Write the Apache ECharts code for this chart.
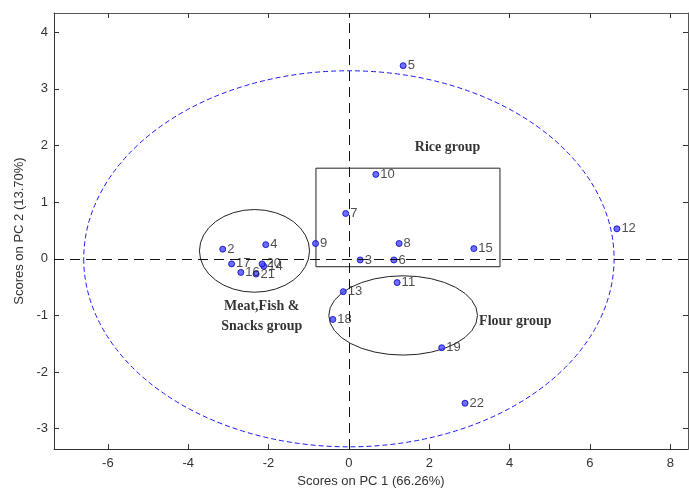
<!DOCTYPE html>
<html>
<head>
<meta charset="utf-8">
<script src="https://cdn.jsdelivr.net/npm/echarts@6/dist/echarts.min.js"></script>
<style>html,body{margin:0;padding:0;background:#fff;}#c{width:689px;height:493px;}</style>
</head>
<body>
<div id="c"></div>
<script>
// Sample labels and PC scores
var sampleNames = ['2','3','4','5','6','7','8','9','10','11','12','13','14','15','16','17','18','19','20','21','22'];
var pc1Scores  = [-3.14, 0.28, -2.07, 1.35, 1.12, -0.08, 1.25, -0.83, 0.67, 1.20, 6.67, -0.14, -2.12, 3.11, -2.69, -2.92, -0.40, 2.31, -2.16, -2.31, 2.89];
var pc2Scores  = [0.17, -0.02, 0.25, 3.41, -0.02, 0.80, 0.27, 0.27, 1.49, -0.42, 0.53, -0.58, -0.13, 0.18, -0.24, -0.09, -1.07, -1.57, -0.09, -0.27, -2.55];

// Axis ticks
var xTicks = [-6, -4, -2, 0, 2, 4, 6, 8];
var yTicks = [-3, -2, -1, 0, 1, 2, 3, 4];
var xRange = [-7.34, 8.44];
var yRange = [-3.36, 4.34];

// Group ellipses: [centerX, centerY, radiusX, radiusY]
var confidenceEllipse = [0, 0, 6.6, 3.32];
var meatEllipse = [-2.35, 0.14, 1.37, 0.73];
var flourEllipse = [1.35, -1.0, 1.85, 0.70];
// Rice box: [x1, y1, x2, y2]
var riceBox = [-0.82, 1.60, 3.76, -0.14];

// Group annotation texts and anchor points
var groupTexts = ['Rice group', 'Flour group', 'Meat,Fish &\nSnacks group'];
var groupX = [1.64, 3.24, -2.17];
var groupY = [1.96, -1.11, -1.01];

var chart = echarts.init(document.getElementById('c'));

var points = sampleNames.map(function (n, i) { return { name: n, value: [pc1Scores[i], pc2Scores[i]] }; });

function ellipseRender(style) {
  return function (params, api) {
    var cx = api.value(0), cy = api.value(1), rx = api.value(2), ry = api.value(3);
    var c = api.coord([cx, cy]);
    var s = api.size([rx, ry]);
    var a = s[0], b = s[1];
    var d = 'M ' + (c[0] - a) + ' ' + c[1] +
      ' A ' + a + ' ' + b + ' 0 1 0 ' + (c[0] + a) + ' ' + c[1] +
      ' A ' + a + ' ' + b + ' 0 1 0 ' + (c[0] - a) + ' ' + c[1] + ' Z';
    return { type: 'path', shape: { pathData: d }, style: style };
  };
}

var tickLbl = { color: '#333', fontSize: 13, fontFamily: 'Liberation Sans, Arial, sans-serif' };

var option = {
  animation: false,
  backgroundColor: '#fff',
  grid: { left: 54, right: 1, top: 13, bottom: 41, containLabel: false },
  xAxis: [{
    type: 'value', min: xRange[0], max: xRange[1], position: 'bottom',
    name: 'Scores on PC 1 (66.26%)', nameLocation: 'middle', nameGap: 25,
    nameTextStyle: { color: '#333', fontSize: 13, fontFamily: 'Liberation Sans, Arial, sans-serif' },
    axisLine: { show: true, onZero: false, lineStyle: { color: '#333', width: 1 } },
    axisTick: { show: true, inside: true, length: 5, customValues: xTicks, lineStyle: { color: '#333' } },
    axisLabel: Object.assign({ customValues: xTicks, margin: 8, showMinLabel: true, showMaxLabel: true }, tickLbl),
    splitLine: { show: false }
  }, {
    type: 'value', min: xRange[0], max: xRange[1], position: 'top',
    axisLine: { show: true, onZero: false, lineStyle: { color: '#555', width: 1 } },
    axisTick: { show: true, inside: true, length: 5, customValues: xTicks, lineStyle: { color: '#333' } },
    axisLabel: { show: false }, splitLine: { show: false }
  }],
  yAxis: [{
    type: 'value', min: yRange[0], max: yRange[1], position: 'left',
    name: 'Scores on PC 2 (13.70%)', nameLocation: 'middle', nameGap: 27, nameRotate: 90,
    nameTextStyle: { color: '#333', fontSize: 13, fontFamily: 'Liberation Sans, Arial, sans-serif' },
    axisLine: { show: true, onZero: false, lineStyle: { color: '#333', width: 1 } },
    axisTick: { show: true, inside: true, length: 5, customValues: yTicks, lineStyle: { color: '#333' } },
    axisLabel: Object.assign({ customValues: yTicks, margin: 6 }, tickLbl),
    splitLine: { show: false }
  }, {
    type: 'value', min: yRange[0], max: yRange[1], position: 'right',
    axisLine: { show: true, onZero: false, lineStyle: { color: '#555', width: 1 } },
    axisTick: { show: true, inside: true, length: 5, customValues: yTicks, lineStyle: { color: '#333' } },
    axisLabel: { show: false }, splitLine: { show: false }
  }],
  series: [
    {
      type: 'custom', coordinateSystem: 'cartesian2d', silent: true, z: 1,
      renderItem: ellipseRender({ fill: 'none', stroke: '#1a1aff', lineWidth: 1, lineDash: [5, 3] }),
      data: [confidenceEllipse]
    },
    {
      type: 'custom', coordinateSystem: 'cartesian2d', silent: true, z: 1,
      renderItem: ellipseRender({ fill: 'none', stroke: '#222', lineWidth: 1 }),
      data: [meatEllipse, flourEllipse]
    },
    {
      type: 'custom', coordinateSystem: 'cartesian2d', silent: true, z: 1,
      renderItem: function (params, api) {
        var p1 = api.coord([api.value(0), api.value(1)]);
        var p2 = api.coord([api.value(2), api.value(3)]);
        return { type: 'rect', shape: { x: p1[0], y: p1[1], width: p2[0] - p1[0], height: p2[1] - p1[1] },
          style: { fill: 'none', stroke: '#222', lineWidth: 1 } };
      },
      data: [riceBox]
    },
    {
      type: 'scatter', z: 3, symbol: 'circle', symbolSize: 6,
      itemStyle: { color: '#4a4aff', borderColor: '#0000c8', borderWidth: 1 },
      label: {
        show: true, position: 'right', distance: 1, formatter: '{b}',
        color: '#222', fontSize: 13, fontFamily: 'Liberation Sans, Arial, sans-serif'
      },
      markLine: {
        silent: true, symbol: 'none', label: { show: false },
        lineStyle: { color: '#111', type: [10, 6], width: 1 },
        data: [{ xAxis: 0 }, { yAxis: 0 }]
      },
      data: points
    },
    {
      type: 'scatter', z: 4, symbolSize: 0, silent: true,
      label: {
        show: true, position: 'inside', formatter: '{b}',
        color: '#000', fontSize: 14, fontWeight: 'bold', lineHeight: 20,
        fontFamily: 'Liberation Serif, Times New Roman, serif', align: 'left'
      },
      data: groupTexts.map(function (t, i) {
        var d = { name: t, value: [groupX[i], groupY[i]] };
        if (i === 2) { d.label = { align: 'center' }; }
        return d;
      })
    }
  ]
};
chart.setOption(option);
</script>
</body>
</html>
